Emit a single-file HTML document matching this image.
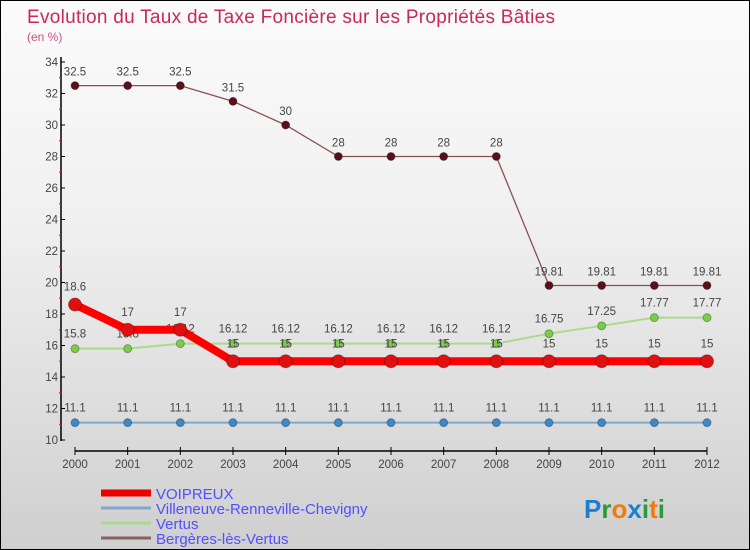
<!DOCTYPE html>
<html><head><meta charset="utf-8"><style>
body{margin:0;}
#c{width:748px;height:548px;border:1px solid #000;background:linear-gradient(#fbfbfb,#f0f0f0 40%,#cfcfcf);position:relative;overflow:hidden;font-family:"Liberation Sans",sans-serif;}
svg{position:absolute;left:0;top:0}
</style></head><body>
<div id="c">
<svg id="s" width="750" height="550">
<text x="26" y="22" font-size="19" fill="#c8285a" textLength="528">Evolution du Taux de Taxe Foncière sur les Propriétés Bâties</text>
<text x="26" y="40" font-size="12" fill="#d05080">(en %)</text>
</svg>
</div>
<script>
const years=["2000","2001","2002","2003","2004","2005","2006","2007","2008","2009","2010","2011","2012"];
const voipreux=[18.6,17,17,15,15,15,15,15,15,15,15,15,15];
const villeneuve=[11.1,11.1,11.1,11.1,11.1,11.1,11.1,11.1,11.1,11.1,11.1,11.1,11.1];
const vertus=[15.8,15.8,16.12,16.12,16.12,16.12,16.12,16.12,16.12,16.75,17.25,17.77,17.77];
const bergeres=[32.5,32.5,32.5,31.5,30,28,28,28,28,19.81,19.81,19.81,19.81];
const yTicks=[10,12,14,16,18,20,22,24,26,28,30,32,34];
const NS="http://www.w3.org/2000/svg",s=document.getElementById('s');
const X=i=>74+i*(632/12), Y=v=>439-(v-10)*15.75;
function el(t,a,p){const e=document.createElementNS(NS,t);for(const k in a)e.setAttribute(k,a[k]);(p||s).appendChild(e);return e;}
let ax=el('line',{x1:60,y1:56,x2:60,y2:440,stroke:'#000','stroke-width':1.5});


let xa=el('line',{x1:74,y1:450,x2:706,y2:450,stroke:'#000','stroke-width':1.5});


yTicks.forEach(v=>{
 el('line',{x1:60,y1:Y(v),x2:64,y2:Y(v),stroke:'#000'});
 if(v<34)el('line',{x1:58,y1:Y(v+1),x2:61,y2:Y(v+1),stroke:'#f00'});
 const t=el('text',{x:57,y:Y(v)+4,'font-size':11.5,fill:'#444','text-anchor':'end'});t.textContent=v;
 
 
});
years.forEach((y,i)=>{
 el('line',{x1:X(i),y1:446,x2:X(i),y2:454,stroke:'#000'});
 const t=el('text',{x:X(i),y:467,'font-size':11.5,fill:'#444','text-anchor':'middle'});t.textContent=y;
 
 
});
function series(d,col,dot,w,r,name,lab,off){
 const g=el('g',{});
 
 
 el('polyline',{points:d.map((v,i)=>X(i)+','+Y(v)).join(' '),fill:'none',stroke:col,'stroke-width':w},g);
 d.forEach((v,i)=>{
  const c=el('circle',{cx:X(i),cy:Y(v),r:r,fill:dot,stroke:'rgba(0,0,0,0.3)'},g);
  
  
  if(lab){const t=el('text',{x:X(i),y:Y(v)+off,'font-size':11.5,fill:'#444','text-anchor':'middle'},g);t.textContent=v;}
 });
}
series(villeneuve,'#7fa8cc','#3a8acb',2,4,'villeneuve-series',true,-11);
series(vertus,'#a8dc8a','#7ccc4c',2,4,'vertus-series',true,-11);
series(bergeres,'#8a5050','#5a1018',1.3,4,'bergeres-series',true,-10);
series(voipreux,'#f00','#e01010',8,6.5,'voipreux-series',true,-14);
const leg=[["VOIPREUX","#e00",7],["Villeneuve-Renneville-Chevigny","#7fa8cc",3],["Vertus","#a8dc8a",3],["Bergères-lès-Vertus","#8a6060",3]];
leg.forEach((l,i)=>{
 const g=el('g',{});
 
 
 const y=492+i*15;
 el('rect',{x:100,y:y-l[2]/2,width:50,height:l[2],fill:l[1]},g);
 const t=el('text',{x:155,y:y+6,'font-size':15,fill:'#5050ff'},g);t.textContent=l[0];
});
const lg=el('text',{x:583,y:517,'font-size':26,'font-weight':'bold'});


[["P","#1a7fd0"],["r","#2a9a3a"],["o","#f07a10"],["x","#1a7fd0"],["i","#2a9a3a"],["t","#f07a10"],["i","#2a9a3a"]].forEach(c=>{const sp=el('tspan',{fill:c[1]},lg);sp.textContent=c[0];});
</script>
</body></html>
